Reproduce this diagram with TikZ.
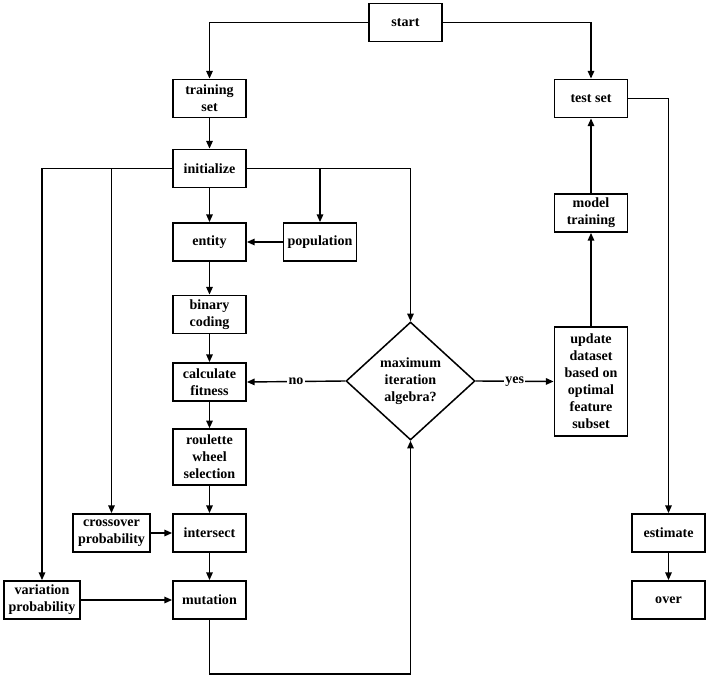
\documentclass[tikz,border=0pt]{standalone}
\usepackage{fontspec}
\setmainfont{Liberation Serif}
\usepackage{tikz}
\usetikzlibrary{arrows.meta}
\usetikzlibrary{shapes.geometric}

\tikzset{
  stepbox/.style={draw,line width=1.3pt,minimum width=2.2cm,minimum height=1.15cm,
    inner sep=1pt,align=center,font=\fontsize{12}{14.5}\selectfont\bfseries},
  decide/.style={draw,diamond,line width=1.3pt,minimum width=3.87cm,minimum height=3.54cm,
    inner sep=0pt,align=center,font=\fontsize{12}{14.5}\selectfont\bfseries},
  lab/.style={fill=white,inner sep=1pt,font=\fontsize{12}{14.5}\selectfont\bfseries}
}

\begin{document}
\begin{tikzpicture}[x=0.03cm,y=-0.03cm,line width=1.2pt,>={Triangle[length=6.5pt,width=5.5pt]}]

      \useasboundingbox (0,0) rectangle (709,679);

      % left column
      \node[stepbox] (start) at (405.5,22.5) {start};
      \node[stepbox] (train) at (209.5,98.5) {training\\set};
      \node[stepbox] (init) at (209.5,168.5) {initialize};
      \node[stepbox] (entity) at (209.5,242) {entity};
      \node[stepbox] (popul) at (320,242) {population};
      \node[stepbox] (binary) at (209.5,314.5) {binary\\coding};
      \node[stepbox] (fitness) at (209.5,382) {calculate\\fitness};
      \node[stepbox,minimum height=1.68cm] (roulette) at (209.5,457) {roulette\\wheel\\selection};
      \node[stepbox] (intersect) at (209.5,533) {intersect};
      \node[stepbox] (mutation) at (209.5,600) {mutation};
      \node[stepbox,minimum width=2.31cm] (crossover) at (111.5,533) {crossover\\probability};
      \node[stepbox,minimum width=2.28cm] (variation) at (42,600) {variation\\probability};

      % decision
      \node[decide] (decision) at (410.5,381) {maximum\\iteration\\algebra?};

      % right column
      \node[stepbox,minimum height=3.27cm] (update) at (591,381.5) {update\\dataset\\based on\\optimal\\feature\\subset};
      \node[stepbox] (model) at (591,213) {model\\training};
      \node[stepbox] (test) at (591,98.5) {test set};
      \node[stepbox] (estimate) at (668.5,533) {estimate};
      \node[stepbox] (over) at (668.5,600) {over};

      % start splits
      \draw[->] (start.west) -| (train.north);
      \draw[->] (start.east) -| (test.north);

      % main chain
      \foreach \a/\b in {train/init, init/entity, entity/binary, binary/fitness,
        fitness/roulette, roulette/intersect, intersect/mutation, estimate/over}
        \draw[->] (\a) -- (\b);

      % initialize branches
      \draw[->] (init.west) -| (variation.north);
      \draw[->] (init.west) -| (crossover.north);
      \draw[->] (init.east) -| (popul.north);
      \draw[->] (init.east) -| (decision.north);
      \draw[->] (popul) -- (entity);
      \draw[->] (crossover) -- (intersect);
      \draw[->] (variation) -- (mutation);

      % loop back
      \coordinate (loop) at (410.5,674);
      \draw[->] (mutation.south) |- (loop) -- (decision.south);

      % decision outputs
      \draw[->] (decision.west) -- node[lab] {no} (fitness.east);
      \draw[->] (decision.east) -- node[lab] {yes} (update.west);

      % right side
      \draw[->] (update) -- (model);
      \draw[->] (model) -- (test);
      \draw[->] (test.east) -| (estimate.north);

\end{tikzpicture}
\end{document}
